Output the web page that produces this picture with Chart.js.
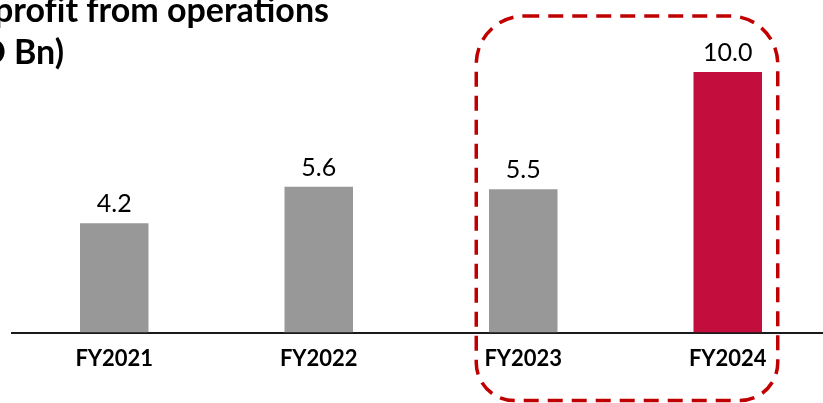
<!DOCTYPE html>
<html>
<head>
<meta charset="utf-8">
<script src="https://cdn.jsdelivr.net/npm/chart.js@4"></script>
<style>
  html, body { margin: 0; padding: 0; overflow: hidden; background: #fff; }
  #wrap { position: relative; width: 830px; height: 403px; }
</style>
</head>
<body>
<div id="wrap"><canvas id="c"></canvas></div>
<script>
// Fiscal years and operating profit (USD Bn)
const categories = ['FY2021', 'FY2022', 'FY2023', 'FY2024'];
const profitValues = [4.2, 5.6, 5.5, 10.0];
// \u200C keeps "f" and "i" as separate glyphs
const titleLines = ['prof\u200Cit from operations', 'D Bn)'];

const GRAY = '#989898';
const RED = '#C30D3D';
const FRAME_RED = '#C00000';
const FONT = 'Lato, "Open Sans", sans-serif';

// Value labels above each bar
const valueLabels = {
  id: 'valueLabels',
  afterDatasetsDraw(chart) {
    const ctx = chart.ctx;
    const meta = chart.getDatasetMeta(0);
    ctx.save();
    ctx.font = '25px ' + FONT;
    ctx.fillStyle = '#000';
    ctx.textAlign = 'center';
    ctx.textBaseline = 'alphabetic';
    meta.data.forEach((bar, i) => {
      ctx.fillText(profitValues[i].toFixed(1), bar.x, bar.y - 11);
    });
    ctx.restore();
  }
};

// Heading in the top-left corner
const heading = {
  id: 'heading',
  afterDraw(chart) {
    const ctx = chart.ctx;
    ctx.save();
    ctx.font = 'bold 34px ' + FONT;
    ctx.fillStyle = '#000';
    ctx.textAlign = 'right';
    ctx.textBaseline = 'alphabetic';
    ctx.fillText(titleLines[0], 329, 22);
    ctx.fillText(titleLines[1], 64, 64);
    ctx.restore();
  }
};

// Dashed rounded frame around the last two fiscal years
const highlightFrame = {
  id: 'highlightFrame',
  afterDraw(chart) {
    const ctx = chart.ctx;
    const x = chart.scales.x;
    const area = chart.chartArea;
    const left = x.getPixelForValue(2) - 47;
    const right = x.getPixelForValue(3) + 50;
    const top = area.top - 4;
    const bottom = area.bottom + 68;
    ctx.save();
    ctx.strokeStyle = FRAME_RED;
    ctx.lineWidth = 3.5;
    ctx.setLineDash([15, 9]);
    ctx.beginPath();
    ctx.roundRect(left, top, right - left, bottom - top, [48, 48, 38, 38]);
    ctx.stroke();
    ctx.restore();
  }
};

new Chart(document.getElementById('c'), {
  type: 'bar',
  data: {
    labels: categories,
    datasets: [{
      data: profitValues,
      backgroundColor: [GRAY, GRAY, GRAY, RED],
      borderWidth: 0,
      categoryPercentage: 1,
      barPercentage: 0.335
    }]
  },
  options: {
    responsive: true,
    maintainAspectRatio: false,
    animation: false,
    layout: { padding: { top: 20, bottom: 18, left: 12, right: 0 } },
    plugins: {
      legend: { display: false },
      tooltip: { enabled: false },
      title: { display: false }
    },
    scales: {
      x: {
        grid: { display: false, drawTicks: false },
        border: { display: true, color: '#1a1a1a', width: 2 },
        ticks: {
          color: '#000',
          padding: 13,
          font: { family: FONT, size: 22, weight: 'bold' }
        }
      },
      y: {
        display: false,
        min: 0,
        max: 12
      }
    }
  },
  plugins: [valueLabels, heading, highlightFrame]
});
</script>
</body>
</html>
